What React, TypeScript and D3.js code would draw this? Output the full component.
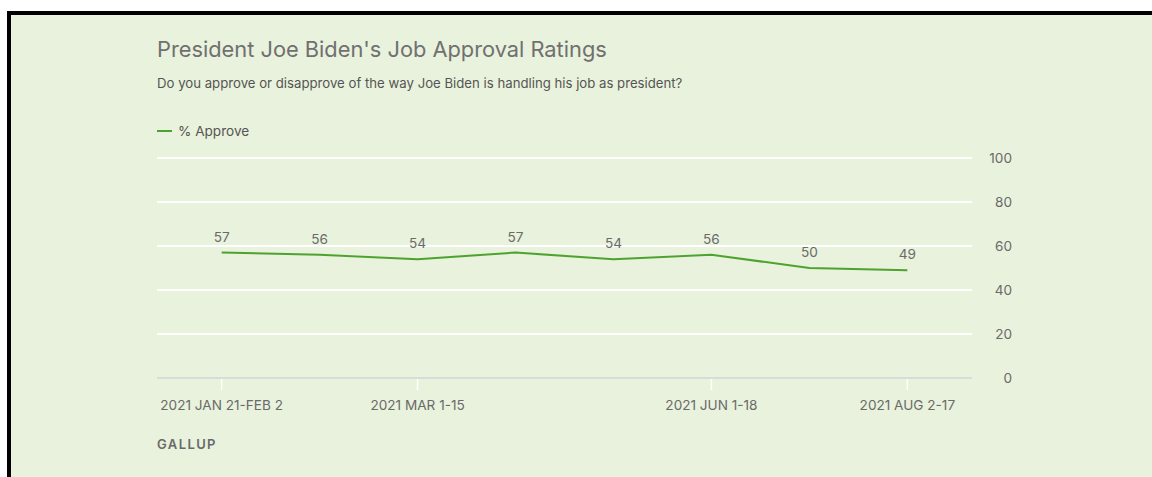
import React from "react";
import * as d3 from "d3";

const periods = [
  "2021 JAN 21-FEB 2",
  "2021 FEB 3-18",
  "2021 MAR 1-15",
  "2021 APR 1-21",
  "2021 MAY 3-18",
  "2021 JUN 1-18",
  "2021 JUL 6-21",
  "2021 AUG 2-17",
];
const approve = [57, 56, 54, 57, 54, 56, 50, 49];
const shownTicks = ["2021 JAN 21-FEB 2", "2021 MAR 1-15", "2021 JUN 1-18", "2021 AUG 2-17"];
const yTicks = [0, 20, 40, 60, 80, 100];

const W = 1152;
const H = 477;
const FONT = "Inter, 'Noto Sans', Roboto, sans-serif";
const TEXT = "#6a6a6a";
const GREEN = "#4ea22f";

export default function App() {
  const x = d3.scalePoint<string>().domain(periods).range([157, 972]).padding(0.66);
  const y = d3.scaleLinear().domain([0, 100]).range([378, 158]);
  const line = d3
    .line<number>()
    .x((_, i) => x(periods[i]) as number)
    .y((d) => y(d));

  return (
    <svg
      width={W}
      height={H}
      style={{ position: "absolute", left: 0, top: 0, display: "block" }}
      fontFamily={FONT}
    >
      <rect x={0} y={0} width={W} height={H} fill="#ffffff" />
      <rect x={7} y={11} width={W - 7} height={H - 11} fill="#000000" />
      <rect x={11} y={15} width={W - 11} height={H - 15} fill="#e9f2dc" />

      <text x={157} y={57} fontSize={21.8} fill="#707070" fontWeight={400}>
        President Joe Biden's Job Approval Ratings
      </text>
      <text x={157} y={88} fontSize={13.2} fill="#555555">
        Do you approve or disapprove of the way Joe Biden is handling his job as president?
      </text>

      <line x1={157} x2={172} y1={131} y2={131} stroke={GREEN} strokeWidth={2} />
      <text x={178} y={136} fontSize={13.6} fill="#555555">
        % Approve
      </text>

      {yTicks.map((t) => (
        <g key={t}>
          <line
            x1={157}
            x2={972}
            y1={y(t)}
            y2={y(t)}
            stroke={t === 0 ? "#d8dbd8" : "#ffffff"}
            strokeWidth={2}
          />
          <text x={1012} y={y(t) + 5} fontSize={13.6} fill={TEXT} textAnchor="end">
            {t}
          </text>
        </g>
      ))}

      {shownTicks.map((p) => (
        <g key={p}>
          <line x1={x(p)} x2={x(p)} y1={379} y2={390} stroke="#ffffff" strokeWidth={1.5} />
          <text x={x(p)} y={410} fontSize={13.6} fill={TEXT} textAnchor="middle">
            {p}
          </text>
        </g>
      ))}

      <path d={line(approve) || ""} fill="none" stroke={GREEN} strokeWidth={2} />

      {approve.map((v, i) => (
        <text
          key={i}
          x={x(periods[i])}
          y={y(v) - 11}
          fontSize={13.6}
          fill={TEXT}
          textAnchor="middle"
        >
          {v}
        </text>
      ))}

      <text x={157} y={449} fontSize={13} fill={TEXT} fontWeight={600} letterSpacing={1.4}>
        GALLUP
      </text>
    </svg>
  );
}
